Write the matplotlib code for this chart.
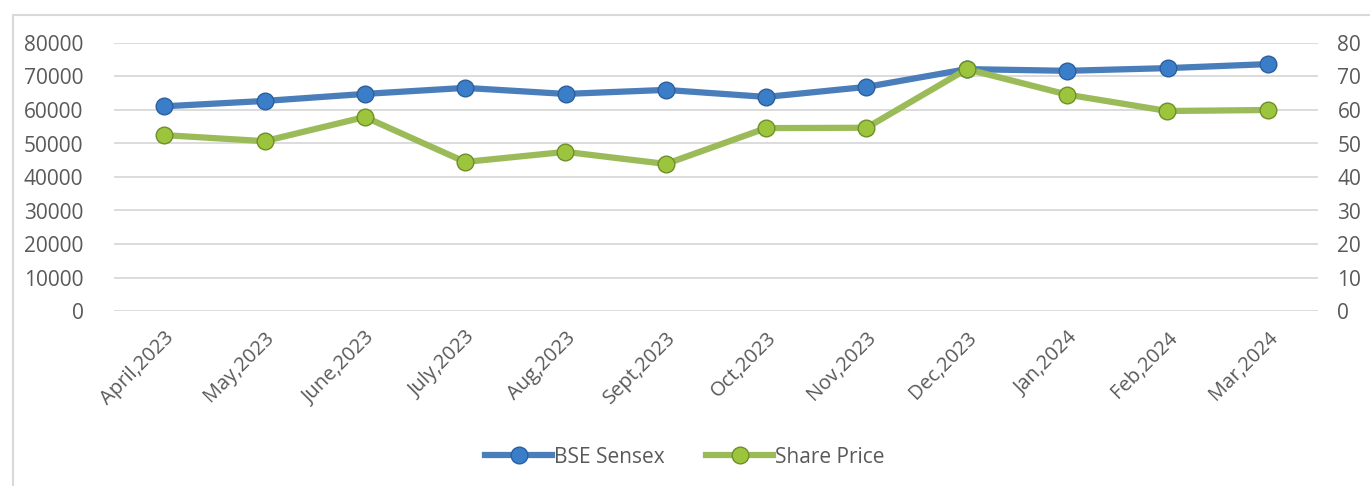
import matplotlib.pyplot as plt
from matplotlib.patches import Rectangle

months = ['April,2023', 'May,2023', 'June,2023', 'July,2023', 'Aug,2023', 'Sept,2023',
          'Oct,2023', 'Nov,2023', 'Dec,2023', 'Jan,2024', 'Feb,2024', 'Mar,2024']
bse_sensex = [61100, 62700, 64800, 66600, 64800, 66000, 63900, 66900, 72200, 71700, 72500, 73700]
share_price = [52.5, 50.7, 57.9, 44.5, 47.5, 43.9, 54.6, 54.7, 72.2, 64.6, 59.7, 60.0]

plt.rcParams['font.family'] = ['Open Sans', 'DejaVu Sans']
txt = '#595959'

fig = plt.figure(figsize=(13.7, 4.86), dpi=100)
ax = fig.add_axes([114 / 1370, 1 - 311 / 486, 1204 / 1370, 268 / 486])
ax2 = ax.twinx()

x = range(len(months))
l1, = ax.plot(x, bse_sensex, color='#4a7ebb', lw=4.5, marker='o', ms=12,
              mfc='#3a7dc9', mec='#2d5f9a', mew=1.0, zorder=3, label='BSE Sensex')
l2, = ax2.plot(x, share_price, color='#9bbb59', lw=4.5, marker='o', ms=12,
               mfc='#9cc43c', mec='#6e8f2a', mew=1.0, zorder=3, label='Share Price')

ax.set_xlim(-0.5, 11.5)
ax.set_ylim(0, 80000)
ax2.set_ylim(0, 80)
ax.set_yticks(range(0, 80001, 10000))
ax2.set_yticks(range(0, 81, 10))
ax.grid(axis='y', color='#d9d9d9', lw=1.3)
ax.set_axisbelow(True)

for a in (ax, ax2):
    for s in a.spines.values():
        s.set_visible(False)
    a.tick_params(length=0, labelsize=15, labelcolor=txt)
ax.tick_params(axis='y', pad=22)
ax2.tick_params(axis='y', pad=14)

ax.set_xticks(list(x))
ax.set_xticklabels(months, rotation=45, ha='right', rotation_mode='anchor', fontsize=14.5)
ax.tick_params(axis='x', pad=12)

fig.legend([l1, l2], ['BSE Sensex', 'Share Price'], loc='center', bbox_to_anchor=(0.5, 1 - 457 / 486),
           ncol=2, frameon=False, fontsize=15, labelcolor=txt, handlelength=3.2,
           handletextpad=0.1, columnspacing=2.0)

fig.patches.append(Rectangle((13 / 1370, -0.1), 1.2, 1.1 - 15 / 486, transform=fig.transFigure,
                             fill=False, ec='#d9d9d9', lw=1.5))

fig.savefig('out.png', dpi=100)
